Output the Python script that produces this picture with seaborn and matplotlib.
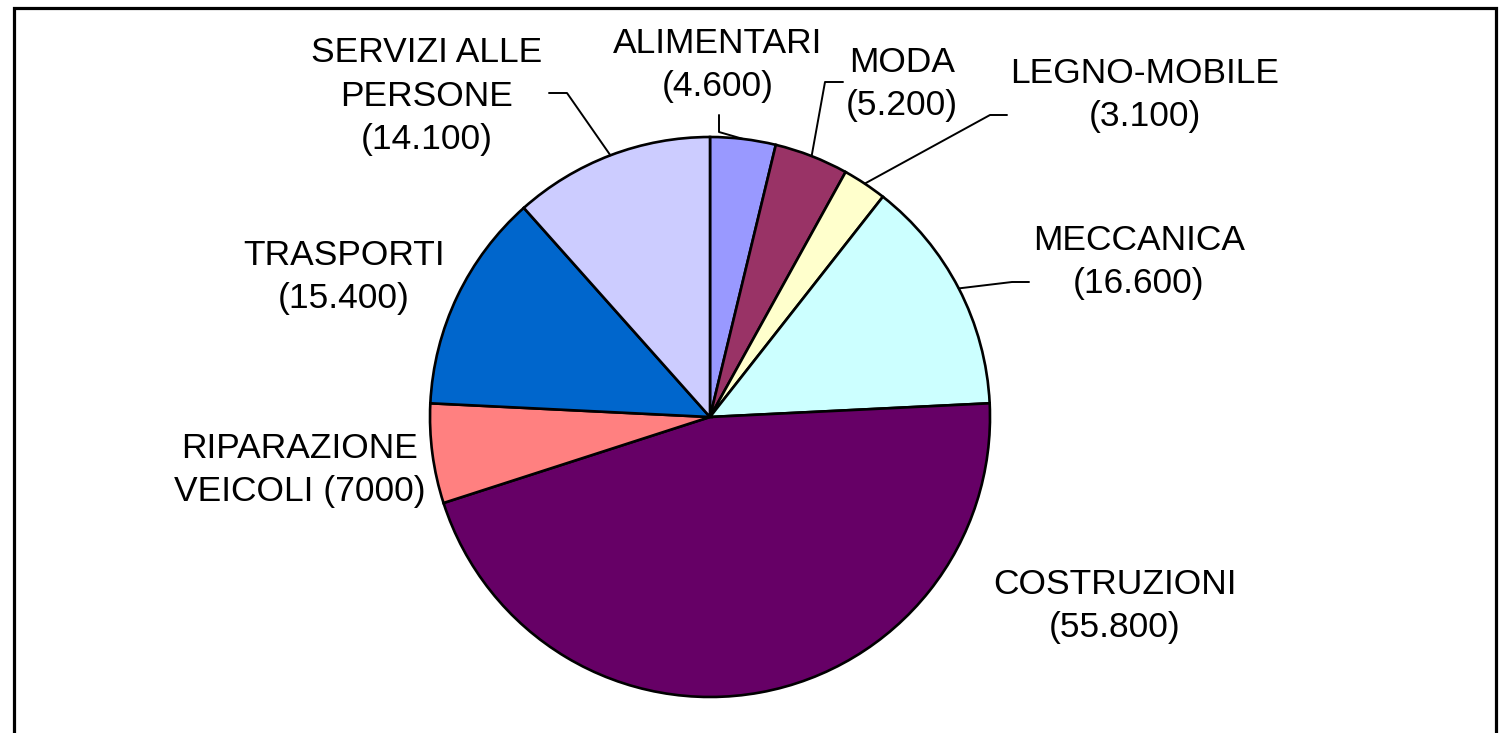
import numpy as np
import seaborn as sns
from matplotlib import pyplot as plt
from matplotlib.patches import Rectangle

# dati: imprese per settore
sectors = [
    "ALIMENTARI",
    "MODA",
    "LEGNO-MOBILE",
    "MECCANICA",
    "COSTRUZIONI",
    "RIPARAZIONE VEICOLI",
    "TRASPORTI",
    "SERVIZI ALLE PERSONE",
]
imprese = [4600, 5200, 3100, 16600, 55800, 7000, 15400, 14100]
label_texts = [
    "ALIMENTARI\n(4.600)",
    "MODA\n(5.200)",
    "LEGNO-MOBILE\n(3.100)",
    "MECCANICA\n(16.600)",
    "COSTRUZIONI\n(55.800)",
    "RIPARAZIONE\nVEICOLI (7000)",
    "TRASPORTI\n(15.400)",
    "SERVIZI ALLE\nPERSONE\n(14.100)",
]
colors = ["#9999FF", "#993366", "#FFFFCC", "#CCFFFF", "#660066", "#FF8080", "#0066CC", "#CCCCFF"]

# layout (pixel dell'immagine)
W, H = 1501, 733
cx, cy, rad = 710, 417, 280
label_pos = [(718, 65), (902, 84), (1145, 95), (1139, 262), (1115, 606),
             (300, 470), (344, 277), (427, 96)]
# leader: (estremo verso etichetta, gomito) o None
leaders = [((719, 115), (719, 132)), ((843, 82), (825, 82)), ((1007, 115), (990, 115)),
           ((1029, 282), (1012, 282)), None, None, None, ((549, 93), (567, 93))]


def px(p):
    return ((p[0] - cx) / rad, (cy - p[1]) / rad)


sns.set_theme(style="white")
plt.rcParams["font.family"] = ["Liberation Sans", "DejaVu Sans"]

fig = plt.figure(figsize=(W / 100, H / 100), dpi=100)
ax = fig.add_axes([0, 0, 1, 1])

wedges, _ = ax.pie(
    imprese,
    colors=colors,
    startangle=90,
    counterclock=False,
    radius=1,
    wedgeprops={"edgecolor": "black", "linewidth": 1.9},
)

for w, txt, pos, lead in zip(wedges, label_texts, label_pos, leaders):
    ax.text(*px(pos), txt, ha="center", va="center", multialignment="center",
            fontsize=25.5, linespacing=1.42, color="black")
    if lead is not None:
        mid = np.deg2rad((w.theta1 + w.theta2) / 2)
        edge = (np.cos(mid), np.sin(mid))
        a, b = px(lead[0]), px(lead[1])
        ax.plot([a[0], b[0], edge[0]], [a[1], b[1], edge[1]], color="black", lw=1.4)

ax.set_xlim(-cx / rad, (W - cx) / rad)
ax.set_ylim(-(H - cy) / rad, cy / rad)
ax.axis("off")

# cornice del grafico
fig.patches.append(Rectangle((13.5 / W, -0.05), (1495.5 - 13.5) / W, (H - 8.5) / H + 0.05,
                             transform=fig.transFigure, fill=False, edgecolor="black", lw=2.3))

fig.savefig("out.png", dpi=100)
